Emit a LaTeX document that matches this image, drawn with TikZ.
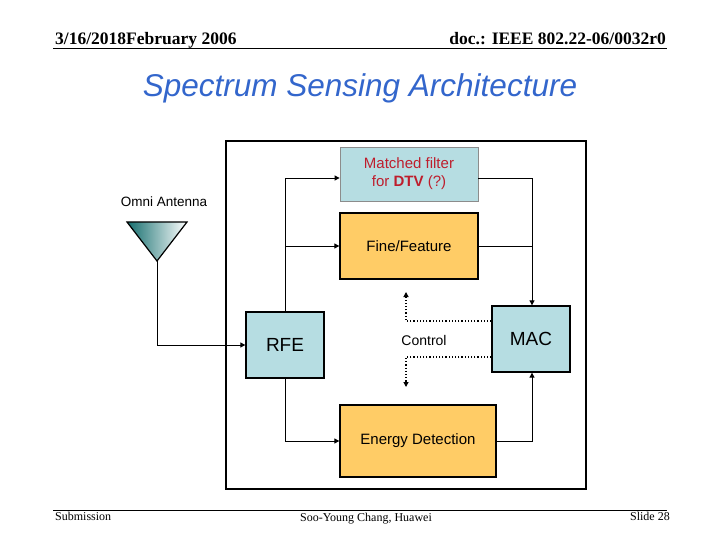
\documentclass[tikz,border=0pt]{standalone}
\usepackage{fontspec}
\setmainfont{Liberation Serif}
\newfontfamily\sans{Liberation Sans}
\usetikzlibrary{arrows.meta}
\definecolor{cyanbox}{RGB}{182,221,226}
\definecolor{orangebox}{RGB}{255,204,102}
\definecolor{titleblue}{RGB}{51,102,204}
\definecolor{redtxt}{RGB}{190,30,45}
\definecolor{antdark}{RGB}{20,110,110}
\begin{document}
\begin{tikzpicture}[x=1pt,y=-1pt,
  blk/.style={draw,line width=1.3pt,font=\sans\fontsize{15}{18}\selectfont,align=center,inner sep=0pt},
  arr/.style={-{Triangle[length=5pt,width=5pt]},line width=0.9pt},
  dots/.style={-{Triangle[length=5pt,width=5pt]},line width=1.2pt,dotted}]
\useasboundingbox[fill=white] (0,0) rectangle (720,540);
% header/footer
\node[anchor=base west,font=\bfseries\fontsize{17.5}{20}\selectfont,inner sep=0] (hl) at (55,45) {3/16/2018February 2006};
\node[anchor=base east,font=\bfseries\fontsize{17.5}{20}\selectfont,inner sep=0] (hr) at (666,45) {doc.: IEEE 802.22-06/0032r0};
\draw[line width=0.8pt] (53,48.5) coordinate (h1) -- (667,48.5) coordinate (h2);
\draw[line width=0.8pt] (53,510) coordinate (f1) -- (667,510) coordinate (f2);
\node[anchor=base west,font=\fontsize{12}{14}\selectfont,inner sep=0] (fl) at (55,520) {Submission};
\node[anchor=base,font=\fontsize{12}{14}\selectfont,inner sep=0] (fc) at (366,521) {Soo-Young Chang, Huawei};
\node[anchor=base east,font=\fontsize{12}{14}\selectfont,inner sep=0] (fr) at (670,520) {Slide 28};
% title
\node[font=\sans\itshape\fontsize{31.5}{36}\selectfont,text=titleblue] (title) at (360,88) {Spectrum Sensing Architecture};
% outer box
\draw[line width=1.3pt] (226,141) rectangle (586,489);
% blocks
\node[blk,fill=cyanbox,draw=black!45,line width=0.8pt,minimum width=138pt,minimum height=54pt,text=redtxt] (mf) at (409,174) {Matched filter\\for \textbf{DTV} (?)};
\node[blk,fill=orangebox,minimum width=138pt,minimum height=66pt] (ff) at (409,246) {Fine/Feature};
\node[blk,fill=cyanbox,minimum width=78pt,minimum height=66pt,font=\sans\fontsize{19}{22}\selectfont] (rfe) at (285,345) {RFE};
\node[blk,fill=cyanbox,minimum width=78pt,minimum height=66pt,font=\sans\fontsize{19}{22}\selectfont] (mac) at (531,339) {MAC};
\node[blk,fill=orangebox,minimum width=156pt,minimum height=72pt] (ed) at (418,441) {Energy Detection};
\node[font=\sans\fontsize{14}{16}\selectfont] (ctl) at (424,340) {Control};
% antenna
\shade[left color=antdark,right color=white,draw=black,line width=1.2pt] (127,222) -- (187,222) -- (157,261) coordinate (ant) -- cycle;
\node[anchor=base,font=\sans\fontsize{13.5}{16}\selectfont] (antlbl) at (164,207) {Omni Antenna};
% connectors
\draw[arr] (ant) |- (rfe.west);
\draw[arr] (rfe.north) |- (mf.west |- 0,178);
\draw[arr] (rfe.north |- ff.west) -- (ff.west);
\draw[arr] (rfe.south) |- (ed.west);
\draw[line width=0.9pt] (mf.east |- 0,178) -| (532,247);
\draw[arr] (ff.east) -| (mac.north -| 532,0);
\draw[arr] (ed.east) -| (mac.south -| 532,0);
\draw[dots] (mac.west |- 0,321) -| (406,292);
\draw[dots] (mac.west |- 0,357) -| (406,387);
\end{tikzpicture}
\end{document}
